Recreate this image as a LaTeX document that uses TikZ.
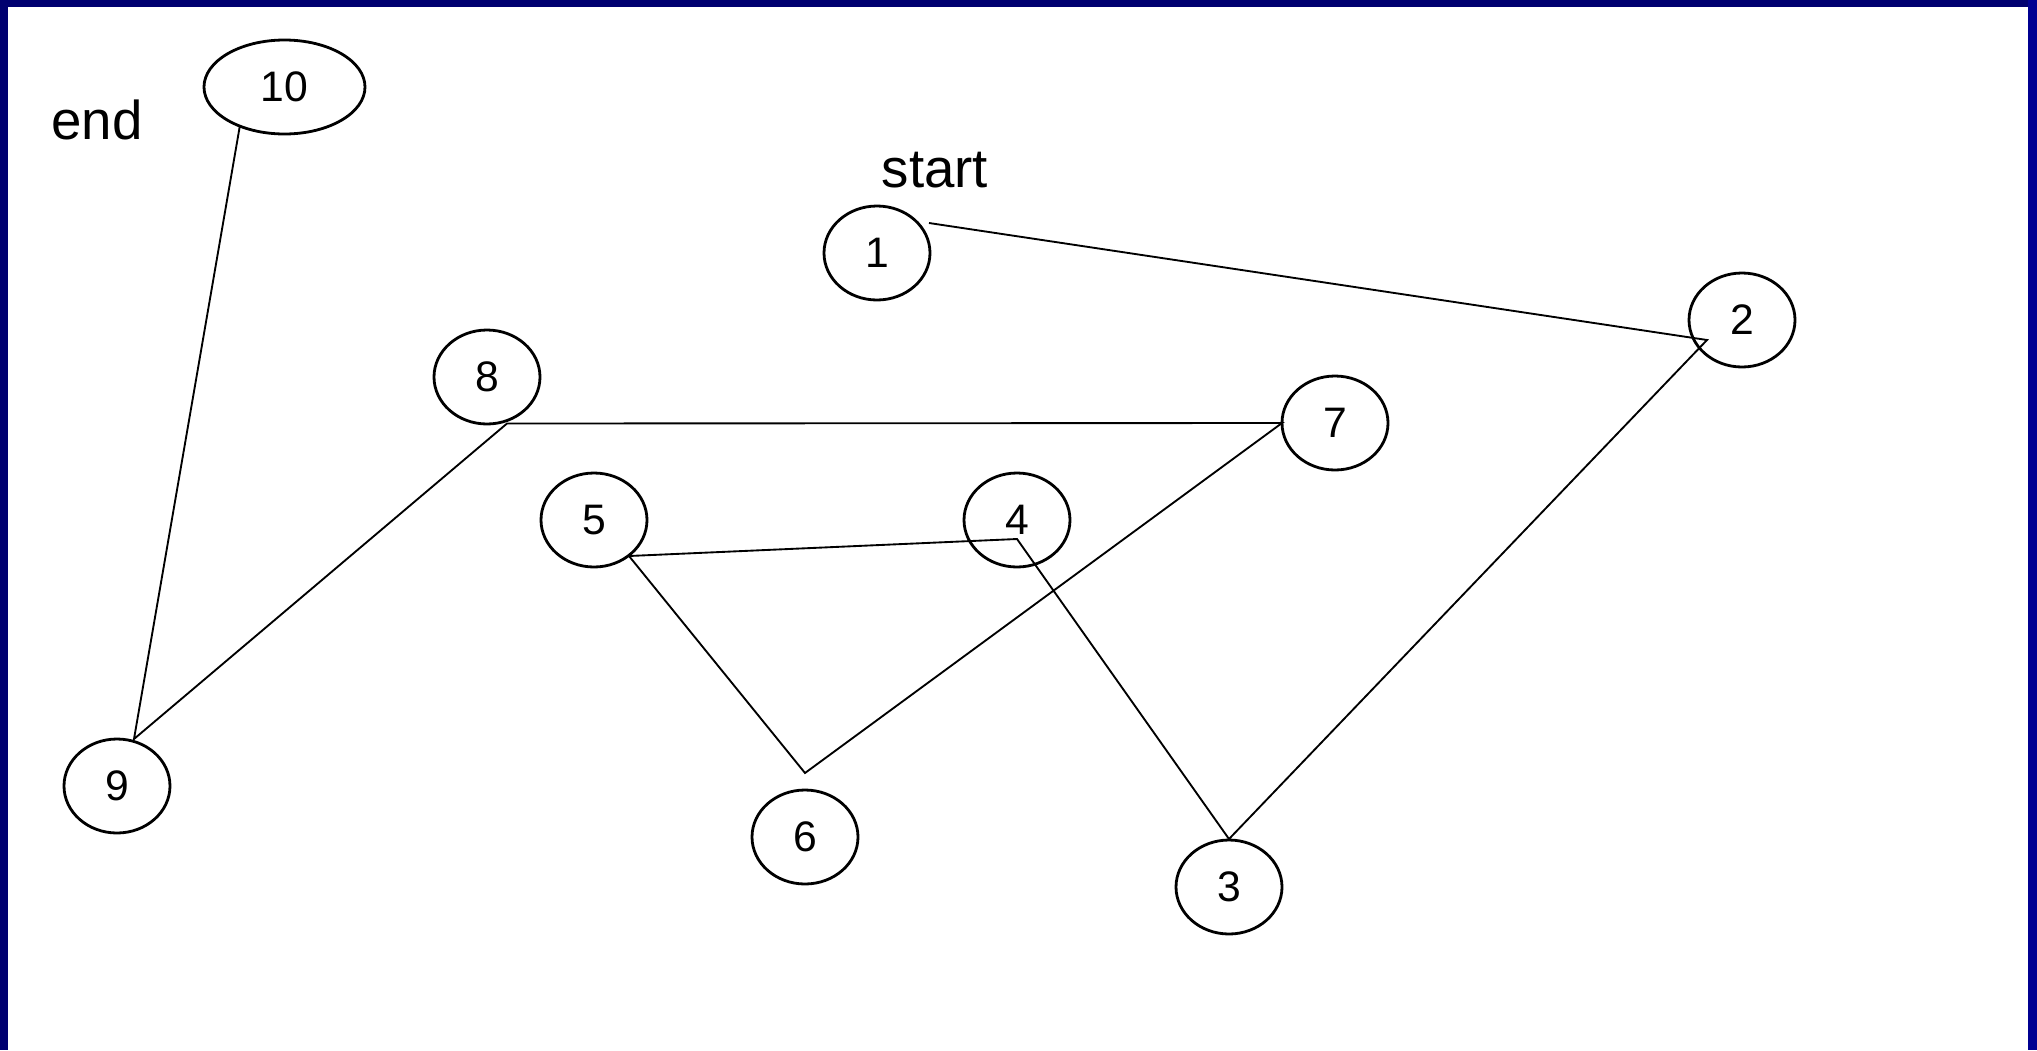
\documentclass[tikz,border=0pt]{standalone}
\usepackage{fontspec}
\setmainfont{Liberation Sans}
\usetikzlibrary{shapes.geometric,calc}
\definecolor{navyL}{RGB}{0,0,112}
\definecolor{navyR}{RGB}{0,0,145}
\newlength{\pxu}
\setlength{\pxu}{0.75pt}
\tikzset{
  vert/.style={draw, ellipse, line width=2.1pt, minimum width=106\pxu, minimum height=94\pxu, inner sep=0pt, font=\fontsize{32}{32}\selectfont},
  edge/.style={line width=1.4pt},
  lbl/.style={font=\fontsize{41}{41}\selectfont, inner sep=0pt}
}
\begin{document}
\begin{tikzpicture}[x=0.75pt, y=-0.75pt]
\useasboundingbox (0,0) rectangle (2037,1050);
\fill[white] (0,0) rectangle (2037,1050);
\fill[navyL] (0,0) rectangle (8,1050);
\fill[navyL] (0,0) rectangle (2037,7);
\fill[navyR] (2028,0) rectangle (2037,1050);

\node[vert] (n1) at (877,253) {1};
\node[vert] (n2) at (1742,320) {2};
\node[vert] (n3) at (1229,887) {3};
\node[vert] (n4) at (1017,520) {4};
\node[vert] (n5) at (594,520) {5};
\node[vert] (n6) at (805,837) {6};
\node[vert] (n7) at (1335,423) {7};
\node[vert] (n8) at (487,377) {8};
\node[vert] (n9) at (117,786) {9};
\node[vert, minimum width=161\pxu] (n10) at (284.5,87) {10};

\node[lbl] (end) at (97,120) {end};
\node[lbl] (start) at (935,170) {start};

\coordinate (a1) at ($(n1)+(52,-30)$);
\coordinate (a2) at ($(n2)+(-35,20)$);
\coordinate (a3) at ($(n3)+(0,-48)$);
\coordinate (a4) at ($(n4)+(0,19)$);
\coordinate (a5) at ($(n5)+(35,36)$);
\coordinate (a6) at ($(n6)+(0,-64)$);
\coordinate (a7) at ($(n7)+(-53,0)$);
\coordinate (a8) at ($(n8)+(20,46.5)$);
\coordinate (a9) at ($(n9)+(17,-47)$);
\coordinate (a10) at ($(n10)+(-44.5,38)$);

\draw[edge] (a1) -- (a2) -- (a3) -- (a4) -- (a5) -- (a6) -- (a7) -- (a8) -- (a9) -- (a10);
\end{tikzpicture}
\end{document}
